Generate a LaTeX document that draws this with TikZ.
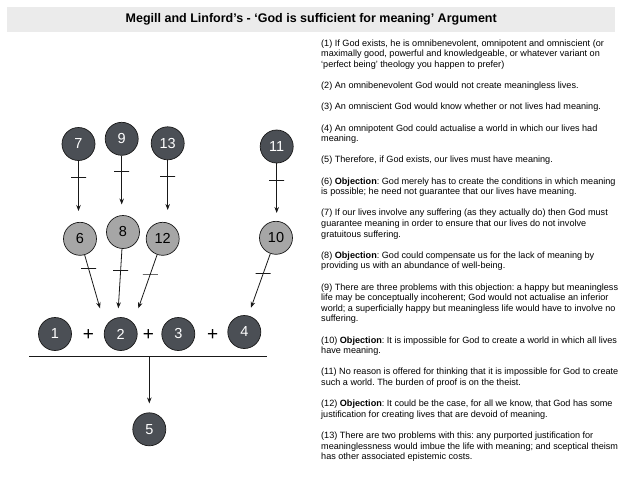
\documentclass[tikz,border=0pt]{standalone}
\usepackage{fontspec}
\setmainfont{Liberation Sans}
\usetikzlibrary{arrows.meta}
\definecolor{darkc}{RGB}{75,79,85}
\definecolor{lightc}{RGB}{166,166,166}
\definecolor{barc}{RGB}{235,235,235}
\frenchspacing
\begin{document}
\begin{tikzpicture}[x=1pt,y=-1pt,
  dark/.style={circle,draw=black!90,line width=0.7pt,fill=darkc,minimum size=33pt,inner sep=0pt,text=white,font=\fontsize{14.5}{14.5}\selectfont},
  light/.style={dark,fill=lightc,text=black},
  arr/.style={draw=black!90,line width=0.8pt,-{Stealth[length=6pt,width=4.5pt]}},
  tickmark/.style={draw=black!90,line width=0.8pt,rectangle,minimum width=15pt,minimum height=0pt,inner sep=0pt},
  plus/.style={font=\fontsize{19}{19}\selectfont,inner sep=0pt},
  argtext/.style={anchor=north west,inner sep=0pt,align=left,font=\fontsize{9.1}{10.6}\selectfont},
  titlebar/.style={fill=barc,minimum width=608pt,minimum height=25pt,inner sep=0pt,anchor=north west,font=\bfseries\fontsize{12.5}{14}\selectfont}
]
\useasboundingbox (0,0) rectangle (640,480);
\fill[white] (0,0) rectangle (640,480);

\node[titlebar] (title) at (7,7) {Megill and Linford’s - ‘God is sufficient for meaning’ Argument};

\node[argtext] (args) at (321,39.5) {%
(1) If God exists, he is omnibenevolent, omnipotent and omniscient (or\\
maximally good, powerful and knowledgeable, or whatever variant on\\
‘perfect being’ theology you happen to prefer)\\[10.6pt]
(2) An omnibenevolent God would not create meaningless lives.\\[10.6pt]
(3) An omniscient God would know whether or not lives had meaning.\\[10.6pt]
(4) An omnipotent God could actualise a world in which our lives had\\
meaning.\\[10.6pt]
(5) Therefore, if God exists, our lives must have meaning.\\[10.6pt]
(6) \textbf{Objection}: God merely has to create the conditions in which meaning\\
is possible; he need not guarantee that our lives have meaning.\\[10.6pt]
(7) If our lives involve any suffering (as they actually do) then God must\\
guarantee meaning in order to ensure that our lives do not involve\\
gratuitous suffering.\\[10.6pt]
(8) \textbf{Objection}: God could compensate us for the lack of meaning by\\
providing us with an abundance of well-being.\\[10.6pt]
(9) There are three problems with this objection: a happy but meaningless\\
life may be conceptually incoherent; God would not actualise an inferior\\
world; a superficially happy but meaningless life would have to involve no\\
suffering.\\[10.6pt]
(10) \textbf{Objection}: It is impossible for God to create a world in which all lives\\
have meaning.\\[10.6pt]
(11) No reason is offered for thinking that it is impossible for God to create\\
such a world. The burden of proof is on the theist.\\[10.6pt]
(12) \textbf{Objection}: It could be the case, for all we know, that God has some\\
justification for creating lives that are devoid of meaning.\\[10.6pt]
(13) There are two problems with this: any purported justification for\\
meaninglessness would imbue the life with meaning; and sceptical theism\\
has other associated epistemic costs.};

% top row (objection rebuttals)
\node[dark] (n7) at (78.5,144) {7};
\node[dark] (n9) at (121.7,138.8) {9};
\node[dark] (n13) at (167.7,143.3) {13};
\node[dark] (n11) at (276.7,146.5) {11};
% middle row (objections)
\node[light] (n6) at (80,238.8) {6};
\node[light] (n8) at (123,232) {8};
\node[light] (n12) at (162.7,238.8) {12};
\node[light] (n10) at (276,237.8) {10};
% premises
\node[dark] (n1) at (55,334) {1};
\node[dark] (n2) at (120.7,334) {2};
\node[dark] (n3) at (178.3,334) {3};
\node[dark] (n4) at (244.3,332) {4};
\node[plus] (p1) at (88.5,335) {+};
\node[plus] (p2) at (148.5,335) {+};
\node[plus] (p3) at (212.7,335) {+};
% conclusion
\node[dark] (n5) at (149.3,429.3) {5};

% arrow end points
\coordinate (t7) at (78.5,211);
\coordinate (t9) at (121.7,204.5);
\coordinate (t13) at (167.7,210);
\coordinate (t11) at (276.7,213);
\coordinate (t6) at (100,308.3);
\coordinate (t8) at (118.3,308.3);
\coordinate (t12) at (138.3,308.3);
\coordinate (t10) at (251,307.7);
\coordinate (barL) at (29.3,356.5);
\coordinate (barR) at (267.3,356.5);
\coordinate (barM) at (149.3,356.5);

\draw[arr] (n7) -- node[tickmark,pos=0.32] (k7) {} (t7);
\draw[arr] (n9) -- node[tickmark,pos=0.33] (k9) {} (t9);
\draw[arr] (n13) -- node[tickmark,pos=0.33] (k13) {} (t13);
\draw[arr] (n11) -- node[tickmark,pos=0.35] (k11) {} (t11);

\draw[arr] (n6) -- node[tickmark,pos=0.26] (k6) {} (t6);
\draw[arr] (n8) -- node[tickmark,pos=0.36] (k8) {} (t8);
\draw[arr] (n12) -- node[tickmark,pos=0.36] (k12) {} (t12);
\draw[arr] (n10) -- node[tickmark,pos=0.37] (k10) {} (t10);

\draw[draw=black!90,line width=0.8pt] (barL) -- (barR);
\draw[arr,shorten >=9pt] (barM) -- (n5);
\end{tikzpicture}
\end{document}
